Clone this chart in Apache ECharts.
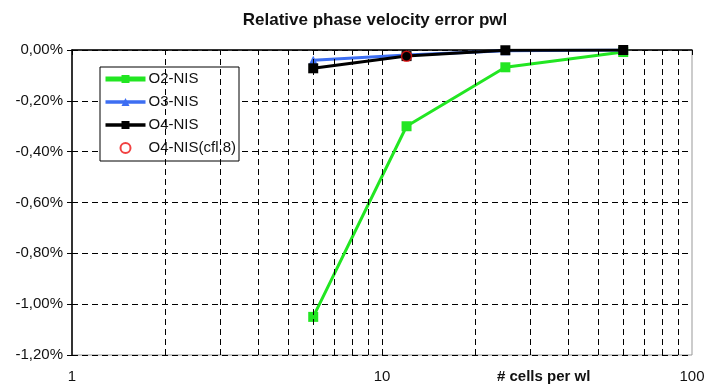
<!DOCTYPE html>
<html>
<head>
<meta charset="utf-8">
<script src="https://cdn.jsdelivr.net/npm/echarts@6/dist/echarts.min.js"></script>
<style>
  html, body { margin: 0; padding: 0; background: #fff; }
  #main { width: 710px; height: 385px; }
</style>
</head>
<body>
<div id="main"></div>
<script>
// cells per wavelength
const cells = [6, 12, 25, 60]
// relative phase velocity error, in %
const o2Nis = [-1.05, -0.30, -0.068, -0.008]
const o3Nis = [-0.04, -0.02, -0.003, 0.0]
const o4Nis = [-0.072, -0.024, -0.001, 0.0]
const o4Cfl8 = [[12, -0.025]]
// minor vertical grid lines of the log axis
const minorX = [2, 3, 4, 5, 6, 7, 8, 9, 10, 20, 30, 40, 50, 60, 70, 80, 90]

const pairs = (ys) => cells.map((c, i) => [c, ys[i]])
const fmtPct = (v) => v.toFixed(2).replace('.', ',') + '%'

const chart = echarts.init(document.getElementById('main'))
const font = 'Liberation Sans, Arial, sans-serif'

const option = {
  animation: false,
  backgroundColor: '#fff',
  title: {
    text: 'Relative phase velocity error pwl',
    left: 370,
    top: 7,
    textAlign: 'center',
    textStyle: { fontFamily: font, fontSize: 17, fontWeight: 'bold', color: '#111' }
  },
  grid: { left: 72, right: 18, top: 50, bottom: 30 },
  legend: {
    orient: 'vertical',
    left: 100,
    top: 67,
    padding: [4, 3, 5, 3],
    itemGap: 7,
    itemWidth: 40,
    itemHeight: 10,
    backgroundColor: '#fff',
    borderColor: '#000',
    borderWidth: 1,
    borderRadius: 0,
    lineStyle: { width: 'inherit' },
    textStyle: { fontFamily: font, fontSize: 15, lineHeight: 16, color: '#111', padding: [0, 0, 0, -2] },
    data: [
      { name: 'O2-NIS', lineStyle: { width: 5 } },
      { name: 'O3-NIS', lineStyle: { width: 3.5 } },
      { name: 'O4-NIS', lineStyle: { width: 3.5 } },
      { name: 'O4-NIS(cfl.8)' }
    ]
  },
  xAxis: {
    type: 'log',
    logBase: 10,
    min: 1,
    max: 100,
    axisLine: { lineStyle: { color: '#000', width: 1.5 } },
    axisTick: { show: true, length: 5, lineStyle: { color: '#000' } },
    axisLabel: { fontFamily: font, fontSize: 15, color: '#111', margin: 14 },
    splitLine: { show: false },
    minorTick: { show: false },
    minorSplitLine: { show: false }
  },
  yAxis: {
    type: 'value',
    min: -1.2,
    max: 0,
    interval: 0.2,
    axisLine: { show: true, lineStyle: { color: '#000', width: 1.5 } },
    axisTick: { show: true, length: 5, lineStyle: { color: '#000' } },
    axisLabel: { fontFamily: font, fontSize: 15, color: '#111', margin: 9, formatter: fmtPct },
    splitLine: { show: true, lineStyle: { color: '#000', type: [6, 4], width: 1 } }
  },
  graphic: [
    {
      type: 'rect',
      shape: { x: 72, y: 50, width: 620, height: 305 },
      style: { fill: 'none', stroke: '#999', lineWidth: 1 },
      silent: true,
      z: -1
    },
    {
      type: 'text',
      left: 497,
      top: 369,
      style: { text: '# cells per wl', font: 'bold 15px ' + font, fill: '#111' }
    }
  ],
  series: [
    {
      name: 'grid',
      type: 'line',
      data: [],
      silent: true,
      markLine: {
        silent: true,
        symbol: 'none',
        label: { show: false },
        lineStyle: { color: '#000', type: [6, 4], width: 1 },
        data: minorX.map((x) => ({ xAxis: x }))
      }
    },
    {
      name: 'O2-NIS',
      type: 'line',
      data: pairs(o2Nis),
      color: '#22e622',
      symbol: 'rect',
      symbolSize: 10,
      lineStyle: { width: 3 },
      z: 3
    },
    {
      name: 'O3-NIS',
      type: 'line',
      data: pairs(o3Nis),
      color: '#3d6ef2',
      symbol: 'triangle',
      symbolSize: 9,
      lineStyle: { width: 3 },
      z: 4
    },
    {
      name: 'O4-NIS',
      type: 'line',
      data: pairs(o4Nis),
      color: '#000',
      symbol: 'rect',
      symbolSize: 10,
      lineStyle: { width: 3 },
      z: 5
    },
    {
      name: 'O4-NIS(cfl.8)',
      type: 'scatter',
      data: o4Cfl8,
      symbol: 'circle',
      symbolSize: 10,
      itemStyle: { color: 'rgba(0,0,0,0)', borderColor: '#ee1111', borderWidth: 1.5 },
      z: 6
    }
  ]
}

chart.setOption(option)
</script>
</body>
</html>
